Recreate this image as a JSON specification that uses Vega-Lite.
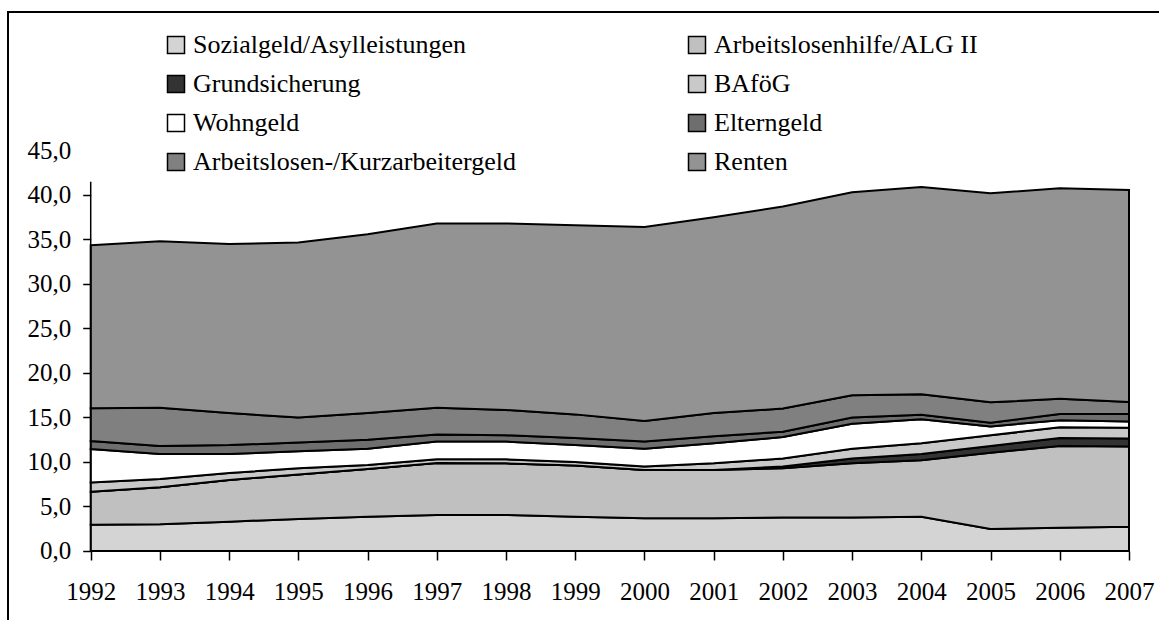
{
  "$schema": "https://vega.github.io/schema/vega-lite/v6.json",
  "width": 1162,
  "height": 628,
  "autosize": {"type": "none"},
  "padding": {"left": 8, "top": 12, "right": 0, "bottom": 0},
  "background": "white",
  "config": {
    "view": {"stroke": "black", "strokeWidth": 2},
    "font": "Liberation Serif"
  },
  "layer": [
    {
      "data": {"values": [
        {"Jahr":1992,"Art":"Sozialgeld/Asylleistungen","Wert":2.95},
        {"Jahr":1992,"Art":"Arbeitslosenhilfe/ALG II","Wert":3.72},
        {"Jahr":1992,"Art":"Grundsicherung","Wert":0},
        {"Jahr":1992,"Art":"BAföG","Wert":1.03},
        {"Jahr":1992,"Art":"Wohngeld","Wert":3.75},
        {"Jahr":1992,"Art":"Elterngeld","Wert":0.91},
        {"Jahr":1992,"Art":"Arbeitslosen-/Kurzarbeitergeld","Wert":3.69},
        {"Jahr":1992,"Art":"Renten","Wert":18.3},
        {"Jahr":1993,"Art":"Sozialgeld/Asylleistungen","Wert":3.0},
        {"Jahr":1993,"Art":"Arbeitslosenhilfe/ALG II","Wert":4.15},
        {"Jahr":1993,"Art":"Grundsicherung","Wert":0},
        {"Jahr":1993,"Art":"BAföG","Wert":0.95},
        {"Jahr":1993,"Art":"Wohngeld","Wert":2.8},
        {"Jahr":1993,"Art":"Elterngeld","Wert":0.9},
        {"Jahr":1993,"Art":"Arbeitslosen-/Kurzarbeitergeld","Wert":4.3},
        {"Jahr":1993,"Art":"Renten","Wert":18.7},
        {"Jahr":1994,"Art":"Sozialgeld/Asylleistungen","Wert":3.3},
        {"Jahr":1994,"Art":"Arbeitslosenhilfe/ALG II","Wert":4.68},
        {"Jahr":1994,"Art":"Grundsicherung","Wert":0},
        {"Jahr":1994,"Art":"BAföG","Wert":0.77},
        {"Jahr":1994,"Art":"Wohngeld","Wert":2.15},
        {"Jahr":1994,"Art":"Elterngeld","Wert":1.0},
        {"Jahr":1994,"Art":"Arbeitslosen-/Kurzarbeitergeld","Wert":3.6},
        {"Jahr":1994,"Art":"Renten","Wert":19.0},
        {"Jahr":1995,"Art":"Sozialgeld/Asylleistungen","Wert":3.6},
        {"Jahr":1995,"Art":"Arbeitslosenhilfe/ALG II","Wert":5.0},
        {"Jahr":1995,"Art":"Grundsicherung","Wert":0},
        {"Jahr":1995,"Art":"BAföG","Wert":0.7},
        {"Jahr":1995,"Art":"Wohngeld","Wert":1.9},
        {"Jahr":1995,"Art":"Elterngeld","Wert":1.0},
        {"Jahr":1995,"Art":"Arbeitslosen-/Kurzarbeitergeld","Wert":2.8},
        {"Jahr":1995,"Art":"Renten","Wert":19.65},
        {"Jahr":1996,"Art":"Sozialgeld/Asylleistungen","Wert":3.85},
        {"Jahr":1996,"Art":"Arbeitslosenhilfe/ALG II","Wert":5.35},
        {"Jahr":1996,"Art":"Grundsicherung","Wert":0},
        {"Jahr":1996,"Art":"BAföG","Wert":0.46},
        {"Jahr":1996,"Art":"Wohngeld","Wert":1.84},
        {"Jahr":1996,"Art":"Elterngeld","Wert":1.0},
        {"Jahr":1996,"Art":"Arbeitslosen-/Kurzarbeitergeld","Wert":3.0},
        {"Jahr":1996,"Art":"Renten","Wert":20.1},
        {"Jahr":1997,"Art":"Sozialgeld/Asylleistungen","Wert":4.05},
        {"Jahr":1997,"Art":"Arbeitslosenhilfe/ALG II","Wert":5.85},
        {"Jahr":1997,"Art":"Grundsicherung","Wert":0},
        {"Jahr":1997,"Art":"BAföG","Wert":0.4},
        {"Jahr":1997,"Art":"Wohngeld","Wert":2.0},
        {"Jahr":1997,"Art":"Elterngeld","Wert":0.8},
        {"Jahr":1997,"Art":"Arbeitslosen-/Kurzarbeitergeld","Wert":3.0},
        {"Jahr":1997,"Art":"Renten","Wert":20.7},
        {"Jahr":1998,"Art":"Sozialgeld/Asylleistungen","Wert":4.05},
        {"Jahr":1998,"Art":"Arbeitslosenhilfe/ALG II","Wert":5.8},
        {"Jahr":1998,"Art":"Grundsicherung","Wert":0},
        {"Jahr":1998,"Art":"BAföG","Wert":0.45},
        {"Jahr":1998,"Art":"Wohngeld","Wert":2.0},
        {"Jahr":1998,"Art":"Elterngeld","Wert":0.7},
        {"Jahr":1998,"Art":"Arbeitslosen-/Kurzarbeitergeld","Wert":2.85},
        {"Jahr":1998,"Art":"Renten","Wert":20.95},
        {"Jahr":1999,"Art":"Sozialgeld/Asylleistungen","Wert":3.85},
        {"Jahr":1999,"Art":"Arbeitslosenhilfe/ALG II","Wert":5.75},
        {"Jahr":1999,"Art":"Grundsicherung","Wert":0},
        {"Jahr":1999,"Art":"BAföG","Wert":0.4},
        {"Jahr":1999,"Art":"Wohngeld","Wert":1.9},
        {"Jahr":1999,"Art":"Elterngeld","Wert":0.8},
        {"Jahr":1999,"Art":"Arbeitslosen-/Kurzarbeitergeld","Wert":2.65},
        {"Jahr":1999,"Art":"Renten","Wert":21.25},
        {"Jahr":2000,"Art":"Sozialgeld/Asylleistungen","Wert":3.67},
        {"Jahr":2000,"Art":"Arbeitslosenhilfe/ALG II","Wert":5.43},
        {"Jahr":2000,"Art":"Grundsicherung","Wert":0},
        {"Jahr":2000,"Art":"BAföG","Wert":0.4},
        {"Jahr":2000,"Art":"Wohngeld","Wert":2.0},
        {"Jahr":2000,"Art":"Elterngeld","Wert":0.8},
        {"Jahr":2000,"Art":"Arbeitslosen-/Kurzarbeitergeld","Wert":2.3},
        {"Jahr":2000,"Art":"Renten","Wert":21.8},
        {"Jahr":2001,"Art":"Sozialgeld/Asylleistungen","Wert":3.67},
        {"Jahr":2001,"Art":"Arbeitslosenhilfe/ALG II","Wert":5.43},
        {"Jahr":2001,"Art":"Grundsicherung","Wert":0},
        {"Jahr":2001,"Art":"BAföG","Wert":0.75},
        {"Jahr":2001,"Art":"Wohngeld","Wert":2.25},
        {"Jahr":2001,"Art":"Elterngeld","Wert":0.8},
        {"Jahr":2001,"Art":"Arbeitslosen-/Kurzarbeitergeld","Wert":2.6},
        {"Jahr":2001,"Art":"Renten","Wert":22.0},
        {"Jahr":2002,"Art":"Sozialgeld/Asylleistungen","Wert":3.75},
        {"Jahr":2002,"Art":"Arbeitslosenhilfe/ALG II","Wert":5.55},
        {"Jahr":2002,"Art":"Grundsicherung","Wert":0.2},
        {"Jahr":2002,"Art":"BAföG","Wert":0.9},
        {"Jahr":2002,"Art":"Wohngeld","Wert":2.4},
        {"Jahr":2002,"Art":"Elterngeld","Wert":0.6},
        {"Jahr":2002,"Art":"Arbeitslosen-/Kurzarbeitergeld","Wert":2.6},
        {"Jahr":2002,"Art":"Renten","Wert":22.7},
        {"Jahr":2003,"Art":"Sozialgeld/Asylleistungen","Wert":3.75},
        {"Jahr":2003,"Art":"Arbeitslosenhilfe/ALG II","Wert":6.1},
        {"Jahr":2003,"Art":"Grundsicherung","Wert":0.55},
        {"Jahr":2003,"Art":"BAföG","Wert":1.1},
        {"Jahr":2003,"Art":"Wohngeld","Wert":2.8},
        {"Jahr":2003,"Art":"Elterngeld","Wert":0.7},
        {"Jahr":2003,"Art":"Arbeitslosen-/Kurzarbeitergeld","Wert":2.5},
        {"Jahr":2003,"Art":"Renten","Wert":22.8},
        {"Jahr":2004,"Art":"Sozialgeld/Asylleistungen","Wert":3.85},
        {"Jahr":2004,"Art":"Arbeitslosenhilfe/ALG II","Wert":6.35},
        {"Jahr":2004,"Art":"Grundsicherung","Wert":0.7},
        {"Jahr":2004,"Art":"BAföG","Wert":1.2},
        {"Jahr":2004,"Art":"Wohngeld","Wert":2.7},
        {"Jahr":2004,"Art":"Elterngeld","Wert":0.5},
        {"Jahr":2004,"Art":"Arbeitslosen-/Kurzarbeitergeld","Wert":2.3},
        {"Jahr":2004,"Art":"Renten","Wert":23.3},
        {"Jahr":2005,"Art":"Sozialgeld/Asylleistungen","Wert":2.47},
        {"Jahr":2005,"Art":"Arbeitslosenhilfe/ALG II","Wert":8.58},
        {"Jahr":2005,"Art":"Grundsicherung","Wert":0.75},
        {"Jahr":2005,"Art":"BAföG","Wert":1.2},
        {"Jahr":2005,"Art":"Wohngeld","Wert":1.0},
        {"Jahr":2005,"Art":"Elterngeld","Wert":0.4},
        {"Jahr":2005,"Art":"Arbeitslosen-/Kurzarbeitergeld","Wert":2.3},
        {"Jahr":2005,"Art":"Renten","Wert":23.5},
        {"Jahr":2006,"Art":"Sozialgeld/Asylleistungen","Wert":2.62},
        {"Jahr":2006,"Art":"Arbeitslosenhilfe/ALG II","Wert":9.18},
        {"Jahr":2006,"Art":"Grundsicherung","Wert":0.9},
        {"Jahr":2006,"Art":"BAföG","Wert":1.2},
        {"Jahr":2006,"Art":"Wohngeld","Wert":0.8},
        {"Jahr":2006,"Art":"Elterngeld","Wert":0.7},
        {"Jahr":2006,"Art":"Arbeitslosen-/Kurzarbeitergeld","Wert":1.7},
        {"Jahr":2006,"Art":"Renten","Wert":23.65},
        {"Jahr":2007,"Art":"Sozialgeld/Asylleistungen","Wert":2.73},
        {"Jahr":2007,"Art":"Arbeitslosenhilfe/ALG II","Wert":9.02},
        {"Jahr":2007,"Art":"Grundsicherung","Wert":0.9},
        {"Jahr":2007,"Art":"BAföG","Wert":1.2},
        {"Jahr":2007,"Art":"Wohngeld","Wert":0.7},
        {"Jahr":2007,"Art":"Elterngeld","Wert":0.85},
        {"Jahr":2007,"Art":"Arbeitslosen-/Kurzarbeitergeld","Wert":1.35},
        {"Jahr":2007,"Art":"Renten","Wert":23.81}
      ]},
      "transform": [
        {"calculate": "indexof(['Sozialgeld/Asylleistungen','Arbeitslosenhilfe/ALG II','Grundsicherung','BAföG','Wohngeld','Elterngeld','Arbeitslosen-/Kurzarbeitergeld','Renten'], datum.Art)", "as": "idx"}
      ],
      "mark": {"type": "area", "stroke": "black", "strokeWidth": 2, "interpolate": "linear", "opacity": 1, "fillOpacity": 1},
      "encoding": {
        "x": {
          "field": "Jahr", "type": "quantitative",
          "scale": {"domain": [1990.8052, 2007.5923], "nice": false, "zero": false},
          "axis": {
            "values": [1992,1993,1994,1995,1996,1997,1998,1999,2000,2001,2002,2003,2004,2005,2006,2007],
            "format": "d", "title": null, "domain": false, "grid": false,
            "offset": -89, "tickSize": 9, "tickColor": "black", "tickWidth": 1.5,
            "labelFont": "Liberation Serif", "labelFontSize": 25, "labelColor": "black",
            "labelPadding": 19, "labelOverlap": false, "labelFlush": false
          }
        },
        "y": {
          "field": "Wert", "type": "quantitative", "stack": "zero",
          "scale": {"domain": [-10.0, 60.56], "nice": false, "zero": false},
          "axis": {
            "values": [0,5,10,15,20,25,30,35,40,45],
            "labelExpr": "replace(format(datum.value, '.1f'), '.', ',')",
            "title": null, "domain": false, "grid": false,
            "offset": -82.7, "tickSize": 8, "tickColor": "black", "tickWidth": 1.5,
            "tickOpacity": {"condition": {"test": "datum.value > 44", "value": 0}, "value": 1},
            "labelFont": "Liberation Serif", "labelFontSize": 25, "labelColor": "black",
            "labelPadding": 12, "labelOverlap": false, "labelFlush": false
          }
        },
        "color": {
          "field": "Art", "type": "nominal",
          "scale": {
            "domain": ["Sozialgeld/Asylleistungen","Arbeitslosenhilfe/ALG II","Grundsicherung","BAföG","Wohngeld","Elterngeld","Arbeitslosen-/Kurzarbeitergeld","Renten"],
            "range": ["#d4d4d4","#c0c0c0","#333333","#c9c9c9","#ffffff","#6e6e6e","#808080","#939393"]
          },
          "legend": {
            "orient": "none", "legendX": 155, "legendY": 20,
            "direction": "horizontal",
            "columns": 2, "columnPadding": 168, "rowPadding": 13,
            "symbolType": "square", "symbolSize": 289,
            "symbolStrokeColor": "black", "symbolStrokeWidth": 1.5, "symbolOpacity": 1,
            "labelFont": "Liberation Serif", "labelFontSize": 26, "labelColor": "black",
            "labelOffset": 4, "labelLimit": 600, "title": null, "padding": 0
          }
        },
        "order": {"field": "idx", "type": "quantitative"}
      }
    },
    {
      "data": {"values": [{}]},
      "mark": {"type": "rule", "color": "black", "strokeWidth": 1.5},
      "encoding": {"x": {"datum": 1992}, "y": {"datum": 0}, "y2": {"datum": 41.5}}
    },
    {
      "data": {"values": [{}]},
      "mark": {"type": "rule", "color": "black", "strokeWidth": 1.5},
      "encoding": {"x": {"datum": 1992}, "x2": {"datum": 2007}, "y": {"datum": 0}}
    }
  ]
}
